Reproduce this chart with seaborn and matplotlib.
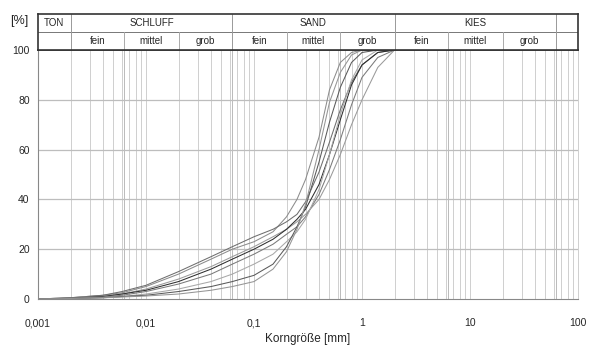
import numpy as np
import pandas as pd
import matplotlib
matplotlib.use("Agg")
import matplotlib.pyplot as plt
from matplotlib.ticker import FixedLocator, MultipleLocator, NullFormatter
import seaborn as sns

# sieve / hydrometer diameters [mm]
diameters = [0.001, 0.002, 0.004, 0.006, 0.01, 0.02, 0.04, 0.063, 0.1, 0.15,
             0.2, 0.25, 0.3, 0.4, 0.5, 0.63, 0.8, 1.0, 1.4, 2.0]

# passing [%] for each sample
probe_1 = [0, 0.5, 1.5, 2.5, 5, 10, 16, 20, 23, 27, 33, 40, 48, 65, 84, 95, 99, 100, 100, 100]
probe_2 = [0, 0.5, 1.5, 3, 5.5, 11, 17, 21, 25, 28, 31, 34, 39, 51, 63, 76, 87, 94, 99, 100]
probe_3 = [0, 0.5, 1, 2, 4, 8, 13, 17, 21, 25, 28, 31, 34, 40, 48, 58, 70, 80, 93, 100]
probe_4 = [0, 0.3, 1, 2, 3.5, 7, 12, 16, 20, 24, 28, 32, 36, 46, 58, 72, 86, 94, 99, 100]
probe_5 = [0, 0.3, 0.8, 1.5, 3, 6, 10, 14, 18, 22, 26, 29, 33, 42, 52, 64, 78, 89, 97, 100]
probe_6 = [0, 0.2, 0.6, 1, 2, 4, 7, 10, 14, 18, 23, 27, 32, 44, 58, 74, 88, 96, 100, 100]
probe_7 = [0, 0.2, 0.5, 1, 1.5, 3, 5, 7, 9.5, 14, 21, 29, 37, 55, 71, 85, 95, 99, 100, 100]
probe_8 = [0, 0.2, 0.5, 0.8, 1.2, 2, 3.5, 5, 7, 12, 19, 28, 38, 60, 79, 91, 98, 100, 100, 100]

probes = {"1": probe_1, "2": probe_2, "3": probe_3, "4": probe_4,
          "5": probe_5, "6": probe_6, "7": probe_7, "8": probe_8}
line_colors = ["#8c8c8c", "#6e6e6e", "#9a9a9a", "#2e2e2e",
               "#7a7a7a", "#a8a8a8", "#5a5a5a", "#959595"]

x_ticks = [0.001, 0.01, 0.1, 1, 10, 100]
x_tick_labels = ["0,001", "0,01", "0,1", "1", "10", "100"]
y_ticks = [0, 20, 40, 60, 80, 100]

main_bounds = [0.002, 0.063, 2, 63]
sub_bounds = [0.0063, 0.02, 0.2, 0.63, 6.3, 20]
main_names = ["TON", "SCHLUFF", "SAND", "KIES"]
main_ranges = [(0.001, 0.002), (0.002, 0.063), (0.063, 2), (2, 63)]
sub_names = ["fein", "mittel", "grob"] * 3
sub_ranges = [(0.002, 0.0063), (0.0063, 0.02), (0.02, 0.063),
              (0.063, 0.2), (0.2, 0.63), (0.63, 2),
              (2, 6.3), (6.3, 20), (20, 63)]

df = pd.DataFrame([(p, d, v) for p, vals in probes.items()
                   for d, v in zip(diameters, vals)],
                  columns=["probe", "d", "passing"])

sns.set_style("white")
plt.rcParams["font.family"] = ["Liberation Sans", "DejaVu Sans"]

fig = plt.figure(figsize=(5.9, 3.5), dpi=100)
ax = fig.add_axes([38 / 590, 1 - 299 / 350, 540 / 590, 249 / 350])
hx = fig.add_axes([38 / 590, 1 - 50 / 350, 540 / 590, 36 / 350], sharex=ax)

grid_c = "#c8c8c8"
minor = [m * 10.0 ** e for e in range(-3, 2) for m in range(2, 10)]
for v in minor + x_ticks:
    ax.axvline(v, color=grid_c, lw=0.6, zorder=0)
for v in [0.0063, 0.063, 0.63, 6.3, 63]:
    ax.axvline(v, color="#b0b0b0", lw=0.6, zorder=0)
for v in y_ticks[1:-1]:
    ax.axhline(v, color="#bdbdbd", lw=0.9, zorder=0)

sns.lineplot(data=df, x="d", y="passing", hue="probe", palette=line_colors,
             legend=False, lw=0.75, ax=ax, estimator=None)

ax.set_xscale("log")
ax.set_xlim(0.001, 100)
ax.set_ylim(0, 100)
ax.xaxis.set_major_locator(FixedLocator(x_ticks))
ax.set_xticklabels(x_tick_labels)
ax.xaxis.set_minor_formatter(NullFormatter())
ax.tick_params(axis="x", which="both", length=0, labelsize=7.5, pad=14)
ax.set_yticks(y_ticks)
ax.yaxis.set_minor_locator(MultipleLocator(4))
ax.tick_params(axis="y", which="major", length=3, labelsize=7.5, pad=3, color="#888888")
ax.tick_params(axis="y", which="minor", length=2, color="#aaaaaa")
ax.set_xlabel("Korngröße [mm]", fontsize=8.5, labelpad=3)
ax.set_ylabel("")
for s in ["left", "bottom"]:
    ax.spines[s].set_color("#888888")
    ax.spines[s].set_linewidth(0.8)
ax.spines["right"].set_color(grid_c)
ax.spines["right"].set_linewidth(0.6)
ax.spines["top"].set_color("#333333")
ax.spines["top"].set_linewidth(1.2)

# header table
hx.set_ylim(0, 2)
hx.axhline(1, color="#777777", lw=0.7)
for v in main_bounds:
    hx.axvline(v, color="#999999", lw=0.7)
for v in sub_bounds:
    hx.plot([v, v], [0, 1], color="#aaaaaa", lw=0.7)
for name, (a, b) in zip(main_names, main_ranges):
    hx.text(np.sqrt(a * b), 1.5, name, ha="center", va="center", fontsize=7)
for name, (a, b) in zip(sub_names, sub_ranges):
    hx.text(np.sqrt(a * b), 0.5, name, ha="center", va="center", fontsize=7)
hx.tick_params(axis="both", which="both", length=0, labelbottom=False, labelleft=False)
for s in hx.spines.values():
    s.set_color("#333333")
    s.set_linewidth(1.2)

fig.text(10 / 590, 1 - 21 / 350, "[%]", fontsize=9, va="center", ha="left")

fig.savefig("out.png", dpi=100)
